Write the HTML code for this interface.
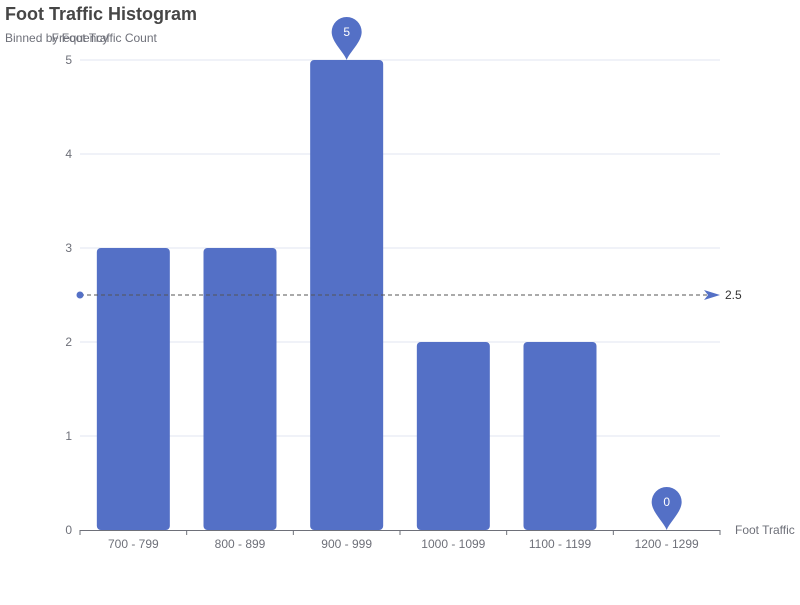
<!DOCTYPE html>
<html><head><meta charset="utf-8"><style>
body{margin:0;background:#fff;}
svg text{font-family:"Liberation Sans",sans-serif;}
</style></head><body>
<svg id="c" width="800" height="600" xmlns="http://www.w3.org/2000/svg">
<text x="5" y="20" font-size="18" font-weight="bold" fill="#464646">Foot Traffic Histogram</text>
<text x="5" y="42" font-size="12" fill="#6e7079">Binned by Foot Traffic Count</text>
<text x="80" y="42" font-size="12" fill="#6e7079" text-anchor="middle">Frequency</text>
<text x="735" y="534" font-size="12" fill="#6e7079">Foot Traffic</text>
<g id="grid"></g><g id="bars"></g><g id="xaxis"></g><g id="marks"></g>
</svg>
<script>
const categories=["700 - 799","800 - 899","900 - 999","1000 - 1099","1100 - 1199","1200 - 1299"];
const values=[3,3,5,2,2,0];
const yTicks=[0,1,2,3,4,5];
const meanLine=2.5;
const NS="http://www.w3.org/2000/svg";
const L=80,R=720,T=60,B=530,yMax=5;
const y=v=>B-(v/yMax)*(B-T);
const bw=(R-L)/categories.length;
const xc=i=>L+bw*(i+0.5);
function mk(tag,attrs,parent){const e=document.createElementNS(NS,tag);for(const k in attrs)e.setAttribute(k,attrs[k]);document.getElementById(parent).appendChild(e);return e;}
yTicks.forEach(t=>{
  if(t>0){const l=mk('line',{x1:L,x2:R,y1:y(t),y2:y(t),stroke:'#e0e6f1'},'grid');
  
  }
  const tx=mk('text',{x:L-8,y:y(t)+4,'font-size':12,fill:'#6e7079','text-anchor':'end'},'grid');tx.textContent=t;
  
  
});
const ax=mk('line',{x1:L,x2:R,y1:B+0.5,y2:B+0.5,stroke:'#6e7079'},'xaxis');


for(let i=0;i<=categories.length;i++){const tk=mk('line',{x1:L+bw*i,x2:L+bw*i,y1:B,y2:B+5,stroke:'#6e7079'},'xaxis');

}
categories.forEach((c,i)=>{
  const t=mk('text',{x:xc(i),y:B+18,'font-size':12,fill:'#6e7079','text-anchor':'middle'},'xaxis');t.textContent=c;
  
  
  const h=B-y(values[i]);
  if(h>0){const r=mk('rect',{x:xc(i)-36.5,y:y(values[i]),width:73,height:h,rx:4,fill:'#5470c6'},'bars');
  
  }
});
const ym=y(meanLine);
const ml=mk('line',{x1:L,x2:R-6,y1:ym,y2:ym,stroke:'#555','stroke-dasharray':'4,3'},'marks');


const mc=mk('circle',{cx:L,cy:ym,r:3.5,fill:'#5470c6'},'marks');


const ma=mk('path',{d:`M${R-16},${ym-5} L${R},${ym} L${R-16},${ym+5} L${R-12},${ym} Z`,fill:'#5470c6'},'marks');


const mt=mk('text',{x:R+5,y:ym+4,'font-size':12,fill:'#333'},'marks');mt.textContent=meanLine;


function pin(i){
  const tx=xc(i),ty=y(values[i]),cy=ty-28;
  const p=mk('path',{d:`M${tx},${ty} C${tx-3},${ty-8} ${tx-15},${cy+10} ${tx-15},${cy} A15,15 0 1 1 ${tx+15},${cy} C${tx+15},${cy+10} ${tx+3},${ty-8} ${tx},${ty} Z`,fill:'#5470c6'},'marks');
  
  
  const t=mk('text',{x:tx,y:cy+4,'font-size':12,fill:'#fff','text-anchor':'middle'},'marks');t.textContent=values[i];
  
  
}
const mx=values.indexOf(Math.max(...values)),mn=values.indexOf(Math.min(...values));
pin(mx);pin(mn);
</script>
</body></html>
